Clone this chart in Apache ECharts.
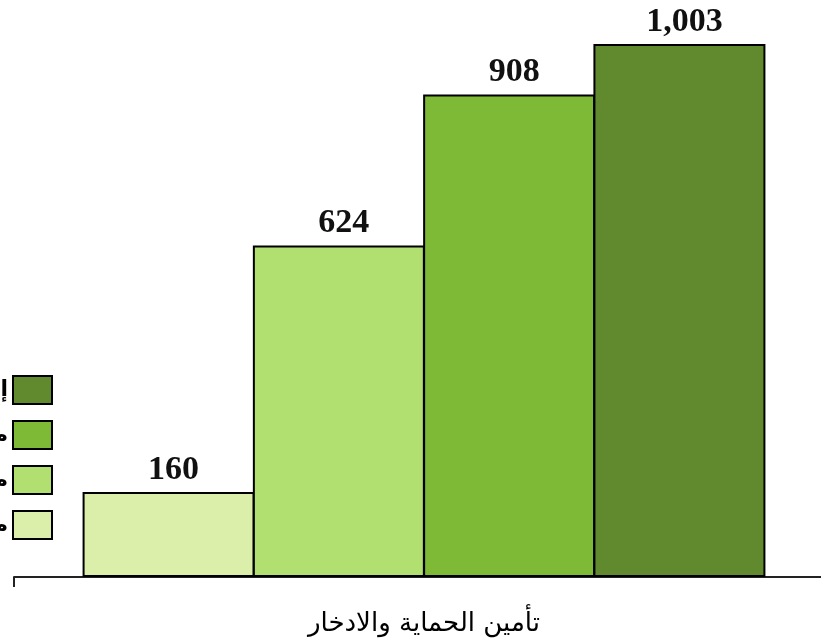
<!DOCTYPE html>
<html>
<head>
<meta charset="utf-8">
<script src="https://cdn.jsdelivr.net/npm/echarts@6/dist/echarts.min.js"></script>
<style>
  html, body { margin: 0; padding: 0; background: #fff; }
  #chart { width: 821px; height: 641px; }
</style>
</head>
<body>
<div id="chart"></div>
<script>
// one category, four series side by side
const categories = ['تأمين الحماية والادخار'];
const seriesNames = ['مجموع 2019', 'مجموع 2020', 'مجموع 2021', 'إجمالي 2022'];
const seriesValues = [[160], [624], [908], [1003]];
const seriesColors = ['#dbeeaa', '#b1e070', '#7fba37', '#61892d'];

const chart = echarts.init(document.getElementById('chart'));

const series = seriesNames.map((name, i) => ({
    name: name,
    type: 'bar',
    data: seriesValues[i],
    barWidth: 172,
    barGap: '-1%',
    itemStyle: { color: seriesColors[i], borderColor: '#000', borderWidth: 2 },
    label: {
        show: true,
        position: 'top',
        distance: 5,
        offset: [5, 0],
        color: '#111',
        fontFamily: 'Liberation Serif',
        fontWeight: 'bold',
        fontSize: 34,
        formatter: p => p.value.toLocaleString('en-US')
    }
}));

chart.setOption({
    backgroundColor: '#fff',
    animation: false,
    grid: { left: 14, top: 44, width: 820, bottom: 64, containLabel: false, outerBoundsMode: 'none' },
    legend: {
        orient: 'vertical',
        right: 768,
        top: 375,
        padding: 0,
        align: 'right',
        icon: 'rect',
        itemWidth: 39,
        itemHeight: 28,
        itemGap: 15,
        data: seriesNames.slice().reverse(),
        itemStyle: { borderColor: '#000', borderWidth: 2 },
        textStyle: { fontFamily: 'DejaVu Sans', fontWeight: 'bold', fontSize: 22, color: '#000' }
    },
    xAxis: {
        type: 'category',
        data: categories,
        axisLine: { lineStyle: { color: '#222', width: 2 } },
        axisTick: { show: true, interval: 0, length: 10, lineStyle: { color: '#222', width: 2 } },
        axisLabel: { margin: 34, fontFamily: 'DejaVu Sans', fontSize: 26, color: '#000' }
    },
    yAxis: {
        type: 'value',
        min: 0,
        max: 1003,
        show: false,
        splitLine: { show: false }
    },
    series: series
});
</script>
</body>
</html>
